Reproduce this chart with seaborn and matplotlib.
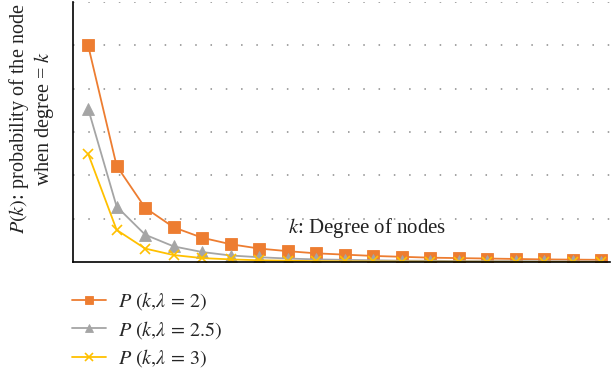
import matplotlib
matplotlib.use("Agg")
import matplotlib.pyplot as plt
import numpy as np
import pandas as pd
import seaborn as sns

# degree k and P(k) (units = one gridline step)
k = list(range(2, 21))
p_l2 = [5.00, 2.22, 1.25, 0.80, 0.56, 0.41, 0.31, 0.25, 0.20, 0.17,
        0.14, 0.12, 0.10, 0.09, 0.08, 0.07, 0.06, 0.055, 0.05]
p_l25 = [3.54, 1.28, 0.63, 0.36, 0.23, 0.15, 0.11, 0.08, 0.06, 0.05,
         0.04, 0.03, 0.03, 0.02, 0.02, 0.02, 0.015, 0.013, 0.011]
p_l3 = [2.50, 0.74, 0.31, 0.16, 0.09, 0.06, 0.04, 0.03, 0.02, 0.015,
        0.012, 0.009, 0.007, 0.006, 0.005, 0.004, 0.003, 0.003, 0.0025]

labels = [r"$P\ (k{,}\lambda\, =\, 2)$",
          r"$P\ (k{,}\lambda\, =\, 2.5)$",
          r"$P\ (k{,}\lambda\, =\, 3)$"]
colors = ["#ED7D31", "#A5A5A5", "#FFC000"]
markers = ["s", "^", "x"]

sns.set_style("white")
plt.rcParams["font.family"] = ["Liberation Serif", "DejaVu Serif"]
plt.rcParams["mathtext.fontset"] = "stix"

fig = plt.figure(figsize=(6.12, 3.77), dpi=100)
ax = fig.add_axes([73 / 612, 1 - 262 / 377, (610 - 73) / 612, 260 / 377])

for vals, lab, col, mk in zip([p_l2, p_l25, p_l3], labels, colors, markers):
    df = pd.DataFrame({"k": k, "p": vals})
    sns.lineplot(data=df, x="k", y="p", ax=ax, color=col, marker=mk,
                 markersize=8 if mk != "x" else 7, markeredgewidth=1.2 if mk == "x" else 0.6,
                 markeredgecolor=col, linewidth=1.3, label=lab)

ax.set_xlim(1.47, 20.3)
ax.set_ylim(0, 6)
ax.set_yticks([1, 2, 3, 4, 5, 6])
ax.set_xticks([])
ax.tick_params(left=False, labelleft=False)
ax.yaxis.grid(True, linestyle=(0, (1, 9)), color="#8a8a8a", linewidth=1.1)
ax.set_axisbelow(True)
for s in ["top", "right"]:
    ax.spines[s].set_visible(False)
for s in ["left", "bottom"]:
    ax.spines[s].set_color("black")
    ax.spines[s].set_linewidth(1.2)
ax.set_xlabel("")
ax.set_ylabel("$P(k)$: probability of the node\nwhen degree = $k$", fontsize=14.5,
              linespacing=1.05, color="#222222")
ax.yaxis.set_label_coords(-17 / 537, 0.55)

ax.text(0.40, 0.11, "$k$: Degree of nodes", transform=ax.transAxes,
        fontsize=15, color="#222222")

ax.legend(loc="upper left", bbox_to_anchor=(58 / 612, 1 - 276 / 377),
          bbox_transform=fig.transFigure, frameon=False, fontsize=14.5,
          handlelength=1.7, handletextpad=0.6, labelspacing=0.33,
          markerscale=0.75, borderpad=0.2)

fig.savefig("out.png", dpi=100)
